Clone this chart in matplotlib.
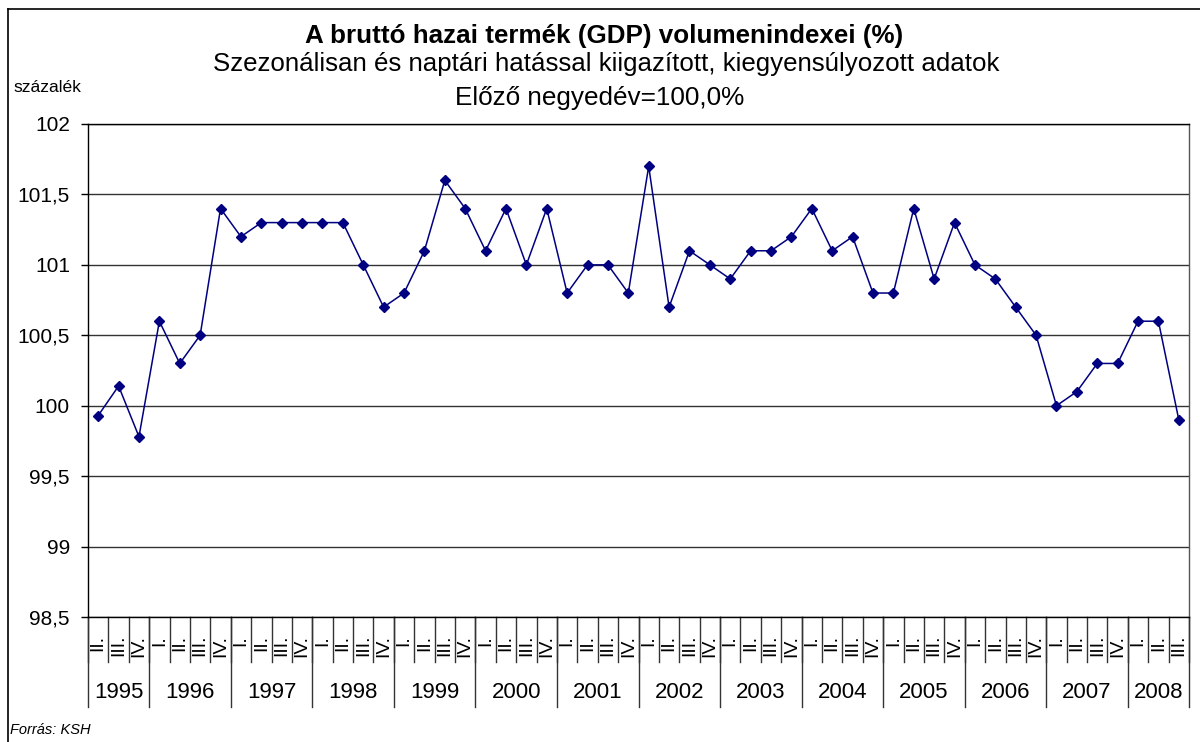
import numpy as np
import matplotlib
matplotlib.use("Agg")
import matplotlib.pyplot as plt
from matplotlib.lines import Line2D
from matplotlib.ticker import FuncFormatter
from matplotlib.transforms import blended_transform_factory

plt.rcParams['font.family'] = ['Liberation Sans', 'DejaVu Sans']

# years and how many quarters each one has in the chart
years = [1995, 1996, 1997, 1998, 1999, 2000, 2001,
         2002, 2003, 2004, 2005, 2006, 2007, 2008]
first_quarter = [2, 1, 1, 1, 1, 1, 1, 1, 1, 1, 1, 1, 1, 1]
last_quarter = [4, 4, 4, 4, 4, 4, 4, 4, 4, 4, 4, 4, 4, 3]
roman = ['I.', 'II.', 'III.', 'IV.']

# previous quarter = 100,0 %
values = [99.93, 100.14, 99.78,
          100.6, 100.3, 100.5, 101.4,
          101.2, 101.3, 101.3, 101.3,
          101.3, 101.3, 101.0, 100.7,
          100.8, 101.1, 101.6, 101.4,
          101.1, 101.4, 101.0, 101.4,
          100.8, 101.0, 101.0, 100.8,
          101.7, 100.7, 101.1, 101.0,
          100.9, 101.1, 101.1, 101.2,
          101.4, 101.1, 101.2, 100.8,
          100.8, 101.4, 100.9, 101.3,
          101.0, 100.9, 100.7, 100.5,
          100.0, 100.1, 100.3, 100.3,
          100.6, 100.6, 99.9]

quarter_labels = []
for fq, lq in zip(first_quarter, last_quarter):
    quarter_labels += roman[fq - 1:lq]

W, H = 1200, 742
fig = plt.figure(figsize=(12, 7.42), dpi=100)
ax = fig.add_axes([88 / W, 1 - 617 / H, (1189 - 88) / W, (617 - 124) / H])

x = np.arange(len(values))
ax.plot(x, values, color='#000080', lw=1.1, marker='D', ms=5,
        markeredgecolor='#000080', markerfacecolor='#000080', zorder=3)

ax.set_xlim(-0.5, len(values) - 0.5)
ax.set_ylim(98.5, 102)
ax.set_yticks(np.arange(98.5, 102.01, 0.5))
ax.yaxis.set_major_formatter(FuncFormatter(lambda v, p: ('%g' % v).replace('.', ',')))
ax.tick_params(axis='y', direction='out', length=5, width=1, labelsize=15, pad=8)
ax.grid(axis='y', color='#333333', lw=1)
ax.set_axisbelow(True)
ax.set_xticks([])
for s in ax.spines.values():
    s.set_color('black')
    s.set_linewidth(1)
ax.spines['right'].set_color('#555555')

# category axis: quarters and years under the plot
tr = blended_transform_factory(ax.transData, fig.transFigure)
def fy(py):
    return 1 - py / H

for i, q in enumerate(quarter_labels):
    ax.text(i, fy(635), q, transform=tr, rotation=90, ha='center', va='top',
            fontsize=14)
for i in range(len(values) + 1):
    ax.add_line(Line2D([i - 0.5, i - 0.5], [fy(617), fy(662)], transform=tr,
                       color='#333333', lw=1, clip_on=False))

start = -0.5
for yr, fq, lq in zip(years, first_quarter, last_quarter):
    n = lq - fq + 1
    ax.text(start + n / 2, fy(692), str(yr), transform=tr, ha='center',
            va='center', fontsize=16)
    ax.add_line(Line2D([start, start], [fy(617), fy(707)], transform=tr,
                       color='#333333', lw=1, clip_on=False))
    start += n
ax.add_line(Line2D([start, start], [fy(617), fy(707)], transform=tr,
                   color='#333333', lw=1, clip_on=False))

# titles
fig.text(604 / W, fy(36), 'A bruttó hazai termék (GDP) volumenindexei (%)',
         ha='center', va='center', fontsize=18.7, fontweight='bold')
fig.text(606 / W, fy(64), 'Szezonálisan és naptári hatással kiigazított, kiegyensúlyozott adatok',
         ha='center', va='center', fontsize=18.6)
fig.text(600 / W, fy(98), 'Előző negyedév=100,0%',
         ha='center', va='center', fontsize=18.8)
fig.text(14 / W, fy(87), 'százalék', ha='left', va='center', fontsize=12.6)
fig.text(10 / W, fy(730), 'Forrás: KSH', ha='left', va='center', fontsize=10.5,
         style='italic')

# chart border (cut off at right and bottom)
fig.add_artist(Line2D([8 / W, 8 / W], [0, fy(9)], color='black', lw=1.2))
fig.add_artist(Line2D([8 / W, 1], [fy(9), fy(9)], color='black', lw=1.2))

fig.savefig('out.png', dpi=100)
